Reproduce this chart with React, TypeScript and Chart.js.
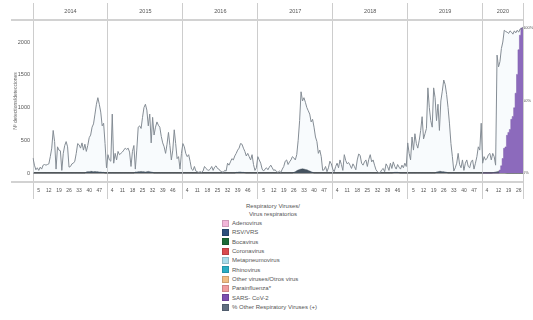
import React, { useEffect, useRef } from 'react';
import { Chart, registerables } from 'chart.js';

Chart.register(...registerables);

// ---------- DATA ----------
const years = ['2014', '2015', '2016', '2017', '2018', '2019', '2020'];

const ticks2014 = [5, 12, 19, 26, 33, 40, 47];
const ticks2015 = [4, 11, 18, 25, 32, 39, 46];
const ticks2016 = [4, 11, 18, 25, 32, 39, 46];
const ticks2017 = [5, 12, 19, 26, 33, 40, 47];
const ticks2018 = [4, 11, 18, 25, 32, 39, 46];
const ticks2019 = [5, 12, 19, 26, 33, 40, 47];
const ticks2020 = [4, 12, 19, 26];

// grey line (counts, left axis)
const line2014 = [230, 120, 50, 80, 40, 90, 60, 120, 130, 120, 130, 140, 250, 380, 650, 480, 60, 400, 350, 340, 40, 300, 420, 480, 400, 90, 100, 140, 150, 180, 300, 450, 430, 380, 460, 350, 440, 330, 420, 540, 580, 700, 750, 900, 1050, 1150, 1050, 930, 720, 760, 450, 80];
const line2015 = [280, 200, 180, 900, 150, 300, 200, 330, 280, 300, 320, 350, 380, 360, 380, 320, 100, 330, 420, 60, 350, 700, 720, 680, 850, 1000, 1050, 960, 720, 900, 460, 850, 580, 700, 780, 730, 700, 560, 460, 400, 300, 440, 620, 420, 200, 350, 660, 450, 220, 250, 60, 300];
const line2016 = [450, 400, 300, 250, 280, 180, 60, 40, 100, 30, 20, 10, 20, 10, 30, 100, 70, 50, 40, 60, 100, 40, 90, 110, 70, 60, 30, 20, 10, 40, 30, 150, 120, 170, 220, 200, 260, 300, 350, 380, 450, 440, 380, 330, 260, 300, 250, 200, 280, 130, 40, 80];
const line2017 = [250, 200, 150, 60, 30, 60, 80, 50, 90, 120, 80, 40, 50, 20, 10, 30, 10, 60, 100, 180, 200, 130, 170, 200, 250, 230, 200, 280, 500, 800, 1240, 1100, 1150, 1080, 1000, 950, 900, 780, 820, 700, 550, 480, 300, 350, 250, 40, 50, 100, 20, 80, 180, 140];
const line2018 = [60, 20, 100, 150, 80, 200, 130, 40, 280, 190, 140, 160, 120, 70, 140, 100, 50, 200, 290, 270, 150, 120, 170, 200, 100, 210, 280, 170, 200, 120, 50, 20, 0, 10, 50, 70, 20, 140, 100, 40, 150, 70, 170, 100, 60, 130, 90, 60, 120, 80, 150, 100];
const line2019 = [460, 300, 200, 550, 350, 600, 450, 380, 500, 650, 860, 520, 600, 680, 1300, 1000, 800, 700, 1300, 1150, 800, 1050, 650, 1100, 1250, 1420, 1350, 1200, 1000, 750, 450, 250, 30, 80, 150, 300, 130, 80, 200, 40, 150, 200, 100, 80, 170, 200, 60, 150, 250, 400, 350, 760];
const line2020 = [150, 250, 200, 220, 280, 300, 200, 300, 250, 120, 1800, 1620, 1700, 1900, 2000, 2180, 2160, 2150, 2130, 2170, 2150, 2120, 2170, 2140, 2180, 2150, 2200, 2190, 2230];

// RSV/VRS small dark area (counts)
const rsv2014 = [0, 0, 0, 0, 0, 0, 0, 0, 0, 0, 0, 0, 0, 0, 0, 0, 0, 0, 0, 0, 0, 0, 0, 0, 0, 0, 0, 0, 0, 0, 0, 0, 0, 0, 0, 0, 0, 15, 20, 20, 25, 25, 20, 25, 20, 20, 15, 15, 10, 10, 0, 0];
const rsv2015 = [0, 0, 0, 0, 0, 0, 0, 0, 0, 0, 0, 0, 0, 0, 0, 0, 0, 0, 0, 15, 15, 20, 20, 25, 20, 20, 15, 20, 25, 20, 15, 10, 0, 0, 0, 0, 0, 0, 0, 0, 0, 0, 0, 0, 0, 0, 0, 0, 0, 0, 0, 0];
const rsv2016 = [0, 0, 0, 0, 0, 0, 0, 0, 0, 0, 0, 0, 0, 0, 0, 0, 0, 0, 0, 0, 0, 0, 0, 0, 0, 0, 0, 0, 0, 0, 0, 0, 0, 0, 0, 0, 0, 10, 10, 15, 15, 10, 10, 5, 0, 0, 0, 0, 0, 0, 0, 0];
const rsv2017 = [0, 0, 0, 0, 0, 0, 0, 0, 0, 0, 0, 0, 0, 0, 0, 0, 0, 0, 0, 0, 0, 0, 0, 0, 0, 10, 20, 35, 45, 55, 60, 65, 60, 55, 50, 40, 30, 20, 10, 0, 0, 0, 0, 0, 0, 0, 0, 0, 0, 0, 0, 0];
const rsv2018 = [0, 0, 0, 0, 0, 0, 0, 0, 0, 0, 0, 0, 0, 0, 0, 0, 0, 0, 0, 0, 0, 0, 0, 0, 0, 0, 0, 0, 0, 0, 0, 0, 0, 0, 0, 0, 0, 0, 0, 0, 0, 0, 5, 10, 10, 10, 5, 0, 0, 0, 0, 0];
const rsv2019 = [0, 0, 0, 0, 0, 0, 0, 0, 0, 0, 0, 0, 0, 0, 0, 0, 0, 0, 0, 0, 15, 20, 25, 25, 20, 20, 15, 10, 0, 0, 0, 0, 0, 0, 0, 0, 0, 0, 0, 0, 0, 0, 0, 0, 0, 0, 0, 0, 0, 0, 0, 0];
const rsv2020 = [0, 0, 0, 0, 0, 0, 0, 5, 10, 15, 20, 25, 25, 20, 15, 10, 5, 0, 0, 0, 0, 0, 0, 0, 0, 0, 0, 0, 0];

// SARS-CoV-2 (% , right axis), 2020 only
const sars2020 = [0, 0, 0, 0, 0, 0, 0, 0, 0, 0, 0, 0, 2, 5, 10, 17, 18, 26, 28, 30, 37, 39, 45, 55, 68, 85, 95, 100, 100];

const leftTicks = [0, 500, 1000, 1500, 2000];
const rightTicks = [0, 50, 100];

const legendTitle = ['Respiratory Viruses/', 'Virus respiratorios'];
const legendNames = ['Adenovirus', 'RSV/VRS', 'Bocavirus', 'Coronavirus', 'Metapneumovirus', 'Rhinovirus', 'Other viruses/Otros virus', 'Parainfluenza*', 'SARS- CoV-2', '% Other Respiratory Viruses (+)'];
const legendColors = ['#f2b6d9', '#2c4f7c', '#1d6b38', '#d94a4e', '#a9dcea', '#29adc4', '#f1bd83', '#f19c9e', '#7c4fb0', '#5f6e80'];

// ---------- BUILD ----------
const lineByYear = [line2014, line2015, line2016, line2017, line2018, line2019, line2020];
const rsvByYear = [rsv2014, rsv2015, rsv2016, rsv2017, rsv2018, rsv2019, rsv2020];
const ticksByYear = [ticks2014, ticks2015, ticks2016, ticks2017, ticks2018, ticks2019, ticks2020];

const labels: string[] = [];
const weekOf: number[] = [];
const yearIdxOf: number[] = [];
const yearStarts: number[] = [];
lineByYear.forEach((arr, yi) => {
  yearStarts.push(labels.length);
  arr.forEach((_, w) => {
    labels.push(`${years[yi]}-W${w + 1}`);
    weekOf.push(w + 1);
    yearIdxOf.push(yi);
  });
});
const lineData = lineByYear.flat();
const rsvData = rsvByYear.flat();
const sarsData: (number | null)[] = labels.map((_, i) => (yearIdxOf[i] === 6 ? sars2020[weekOf[i] - 1] : null));

const yearMid: Record<number, string> = {};
lineByYear.forEach((arr, yi) => {
  yearMid[yearStarts[yi] + Math.floor(arr.length / 2)] = years[yi];
});

const FONT = '"Liberation Sans", Arial, sans-serif';

const framePlugin = {
  id: 'frame',
  beforeDatasetsDraw(chart: any) {
    const { ctx, chartArea } = chart;
    const x = chart.scales.x;
    ctx.save();
    ctx.strokeStyle = '#cdcdcd';
    ctx.lineWidth = 1;
    const bounds = [chartArea.left];
    for (let k = 1; k < yearStarts.length; k++) bounds.push(x.getPixelForValue(yearStarts[k] - 0.5));
    bounds.push(chartArea.right);
    bounds.forEach((px) => {
      ctx.beginPath();
      ctx.moveTo(Math.round(px) + 0.5, 3);
      ctx.lineTo(Math.round(px) + 0.5, 199);
      ctx.stroke();
    });
    ctx.lineWidth = 2;
    ctx.strokeStyle = '#d2d2d2';
    [chartArea.top, chartArea.bottom].forEach((py) => {
      ctx.beginPath();
      ctx.moveTo(11, py);
      ctx.lineTo(chartArea.right, py);
      ctx.stroke();
    });
    ctx.restore();
  },
};

export default function App() {
  const canvasRef = useRef<HTMLCanvasElement>(null);

  useEffect(() => {
    Chart.defaults.font.family = FONT;
    Chart.defaults.color = '#555';
    const chart = new Chart(canvasRef.current as HTMLCanvasElement, {
      type: 'line',
      data: {
        labels,
        datasets: [
          {
            label: legendNames[9],
            data: lineData,
            yAxisID: 'y',
            borderColor: '#858d95',
            borderWidth: 1,
            backgroundColor: 'rgba(214,232,244,0.18)',
            fill: 'origin',
            pointRadius: 0,
            tension: 0,
            order: 0,
          },
          {
            label: legendNames[8],
            data: sarsData,
            yAxisID: 'y2',
            borderColor: '#6b3f9c',
            borderWidth: 0.5,
            backgroundColor: legendColors[8],
            fill: 'origin',
            stepped: 'middle',
            pointRadius: 0,
            order: 1,
          },
          {
            label: legendNames[1],
            data: rsvData,
            yAxisID: 'y',
            borderColor: '#26323f',
            borderWidth: 0.5,
            backgroundColor: '#26323f',
            fill: 'origin',
            pointRadius: 0,
            tension: 0.3,
            order: 2,
          },
        ],
      },
      options: {
        responsive: false,
        animation: false,
        layout: { padding: 0 },
        plugins: { legend: { display: false }, tooltip: { enabled: false } },
        scales: {
          x: {
            type: 'category',
            position: 'bottom',
            offset: false,
            grid: { display: false, drawTicks: false },
            border: { display: false },
            ticks: {
              autoSkip: false,
              maxRotation: 0,
              minRotation: 0,
              padding: 6,
              font: { size: 5 },
              color: '#555',
              callback: (_v: any, i: number) => (ticksByYear[yearIdxOf[i]].includes(weekOf[i]) ? String(weekOf[i]) : ''),
            },
            afterFit: (s: any) => {
              s.height = 18;
            },
          },
          xTop: {
            type: 'category',
            position: 'top',
            offset: false,
            grid: { display: false, drawTicks: false },
            border: { display: false },
            ticks: {
              autoSkip: false,
              maxRotation: 0,
              minRotation: 0,
              padding: 5,
              font: { size: 5.5 },
              color: '#555',
              callback: (_v: any, i: number) => yearMid[i] ?? '',
            },
            afterFit: (s: any) => {
              s.height = 20;
            },
          },
          y: {
            type: 'linear',
            position: 'left',
            min: -137,
            max: 2336,
            afterBuildTicks: (s: any) => {
              s.ticks = leftTicks.map((v) => ({ value: v }));
            },
            grid: {
              drawTicks: false,
              color: (c: any) => (c.tick && c.tick.value === 0 ? '#3a3a3a' : 'rgba(0,0,0,0)'),
              lineWidth: 1.5,
            },
            border: { display: false },
            ticks: { padding: 3, font: { size: 5.5 }, color: '#555', callback: (v: any) => String(v) },
            title: {
              display: true,
              text: 'Nº detections/detecciones',
              font: { size: 5 },
              color: '#666',
              padding: { top: 13, bottom: 0 },
            },
            afterFit: (s: any) => {
              s.width = 33;
            },
          },
          y2: {
            type: 'linear',
            position: 'right',
            min: -6.2,
            max: 105.5,
            afterBuildTicks: (s: any) => {
              s.ticks = rightTicks.map((v) => ({ value: v }));
            },
            grid: { display: false, drawTicks: false },
            border: { display: false },
            ticks: { padding: 0, font: { size: 4 }, color: '#555', callback: (v: any) => `${v}%` },
            afterFit: (s: any) => {
              s.width = 10;
            },
          },
        },
      },
      plugins: [framePlugin],
    } as any);
    return () => chart.destroy();
  }, []);

  return (
    <div style={{ position: 'absolute', left: 0, top: 0, width: 533, height: 320, background: '#fff', fontFamily: FONT, overflow: 'hidden' }}>
      <canvas ref={canvasRef} width={533} height={200} style={{ position: 'absolute', left: 0, top: 0, width: 533, height: 200 }} />
      {legendTitle.map((t, i) => (
        <div key={t} style={{ position: 'absolute', left: 173, width: 200, top: 202 + i * 8, textAlign: 'center', fontSize: 6, lineHeight: '8px', color: '#555' }}>
          {t}
        </div>
      ))}
      {legendNames.map((n, i) => (
        <div key={n} style={{ position: 'absolute', left: 222, top: 219 + i * 9.35, height: 8, display: 'flex', alignItems: 'center', fontSize: 6, color: '#555', whiteSpace: 'nowrap' }}>
          <span style={{ display: 'inline-block', width: 7, height: 7, background: legendColors[i], marginRight: 3, border: '0.5px solid rgba(0,0,0,0.15)', boxSizing: 'border-box' }} />
          <span>{n}</span>
        </div>
      ))}
    </div>
  );
}
